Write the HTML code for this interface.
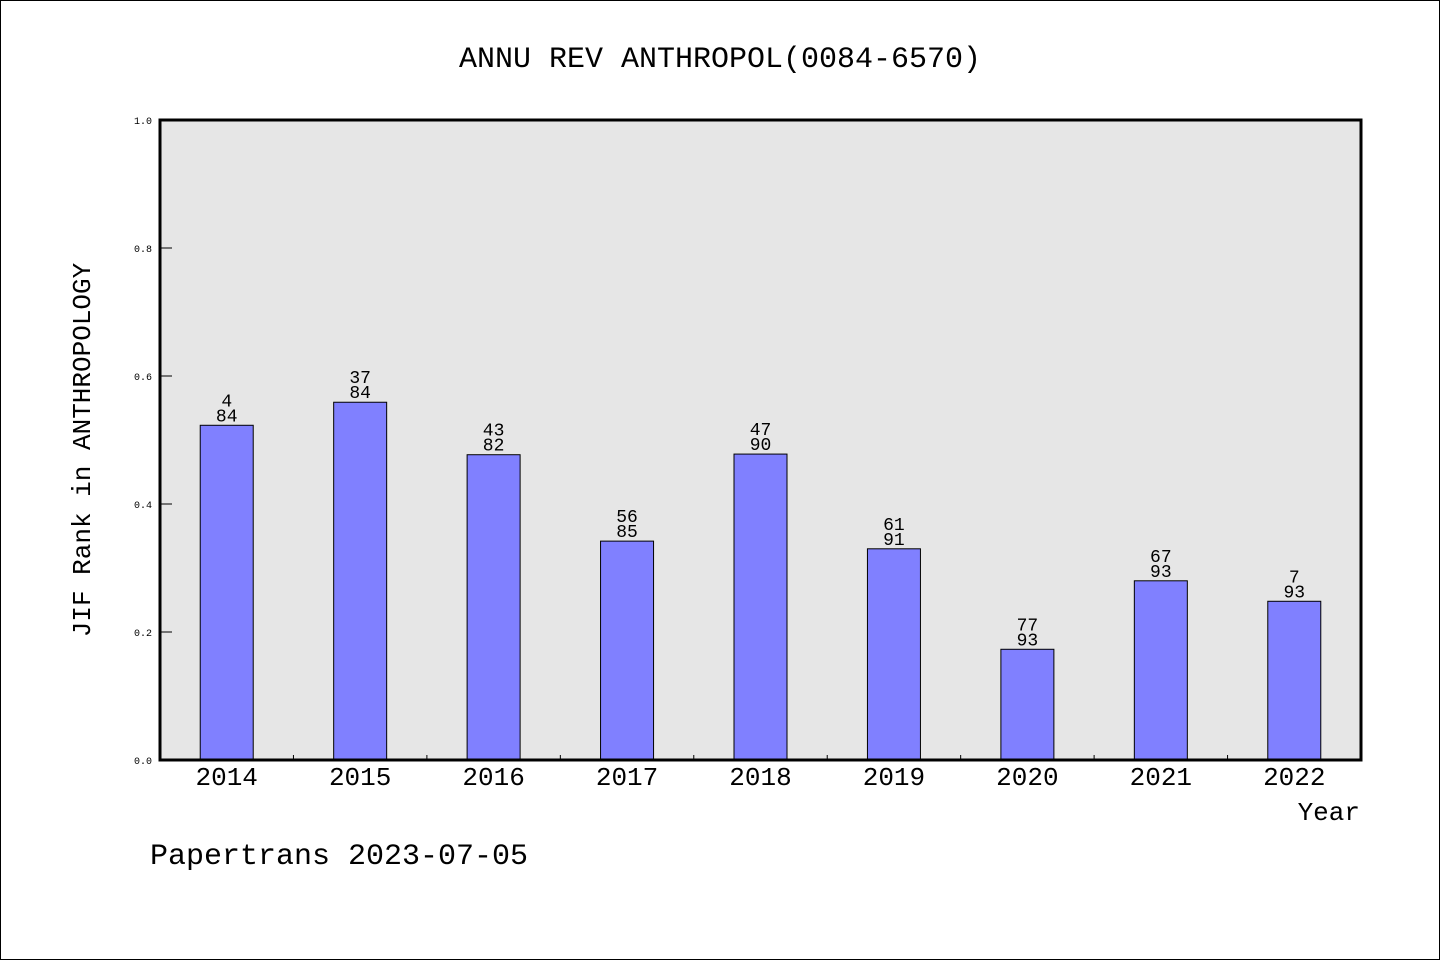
<!DOCTYPE html>
<html><head><meta charset="utf-8"><style>
html,body{margin:0;padding:0;background:#fff}
svg{display:block}
text{font-family:"Liberation Mono","DejaVu Sans Mono",monospace;fill:#000}
</style></head><body>
<svg id="chart" width="1440" height="960">
<rect x="0.5" y="0.5" width="1439" height="959" fill="#fff" stroke="#000"/>
<text x="720" y="67" font-size="30" text-anchor="middle">ANNU REV ANTHROPOL(0084-6570)</text>
<rect x="160" y="120" width="1201" height="640" fill="#e6e6e6"/>
<g id="bars"></g>
<rect x="160" y="120" width="1201" height="640" fill="none" stroke="#000" stroke-width="3"/>
<text x="0" y="0" font-size="26" text-anchor="middle" transform="translate(90,450) rotate(-90)">JIF Rank in ANTHROPOLOGY</text>
<text x="1360" y="820" font-size="26" text-anchor="end">Year</text>
<text x="150" y="864" font-size="30">Papertrans 2023-07-05</text>
</svg>
<script>
const years=['2014','2015','2016','2017','2018','2019','2020','2021','2022'];
const values=[0.523,0.559,0.477,0.342,0.478,0.330,0.173,0.280,0.248];
const ranks=['4','37','43','56','47','61','77','67','7'];
const totals=['84','84','82','85','90','91','93','93','93'];
const yTicks=[0,0.2,0.4,0.6,0.8,1.0];
const NS='http://www.w3.org/2000/svg';
const X0=160,X1=1361,Y0=760,Y1=120;
const band=(X1-X0)/years.length;
const xc=i=>X0+band*(i+0.5);
const y=v=>Y0-(Y0-Y1)*v;
const g=document.getElementById('bars');
function mk(tag,attrs){const e=document.createElementNS(NS,tag);for(const k in attrs)e.setAttribute(k,attrs[k]);g.appendChild(e);return e;}
yTicks.forEach(t=>{
  const l=mk('line',{x1:X0,x2:X0+12,y1:y(t),y2:y(t),stroke:'#000','stroke-width':1});
  
  
  const tx=mk('text',{x:X0-8,y:y(t)+4,'font-size':10,'text-anchor':'end'});
  tx.textContent=t.toFixed(1);
  
  
});
for(let i=1;i<years.length;i++){
  const l=mk('line',{x1:X0+band*i,x2:X0+band*i,y1:Y0,y2:Y0-5,stroke:'#000','stroke-width':1});
  
  
}
years.forEach((yr,i)=>{
  const w=53,top=y(values[i]);
  const r=mk('rect',{x:xc(i)-w/2,y:top,width:w,height:Y0-top,fill:'#8080ff',stroke:'#000','stroke-width':1});
  
  
  const a=mk('text',{x:xc(i),y:top-19,'font-size':18,'text-anchor':'middle'});
  a.textContent=ranks[i];
  
  
  const b=mk('text',{x:xc(i),y:top-4,'font-size':18,'text-anchor':'middle'});
  b.textContent=totals[i];
  
  
  const xl=mk('text',{x:xc(i),y:785,'font-size':26,'text-anchor':'middle'});
  xl.textContent=yr;
  
  
});
</script>
</body></html>
